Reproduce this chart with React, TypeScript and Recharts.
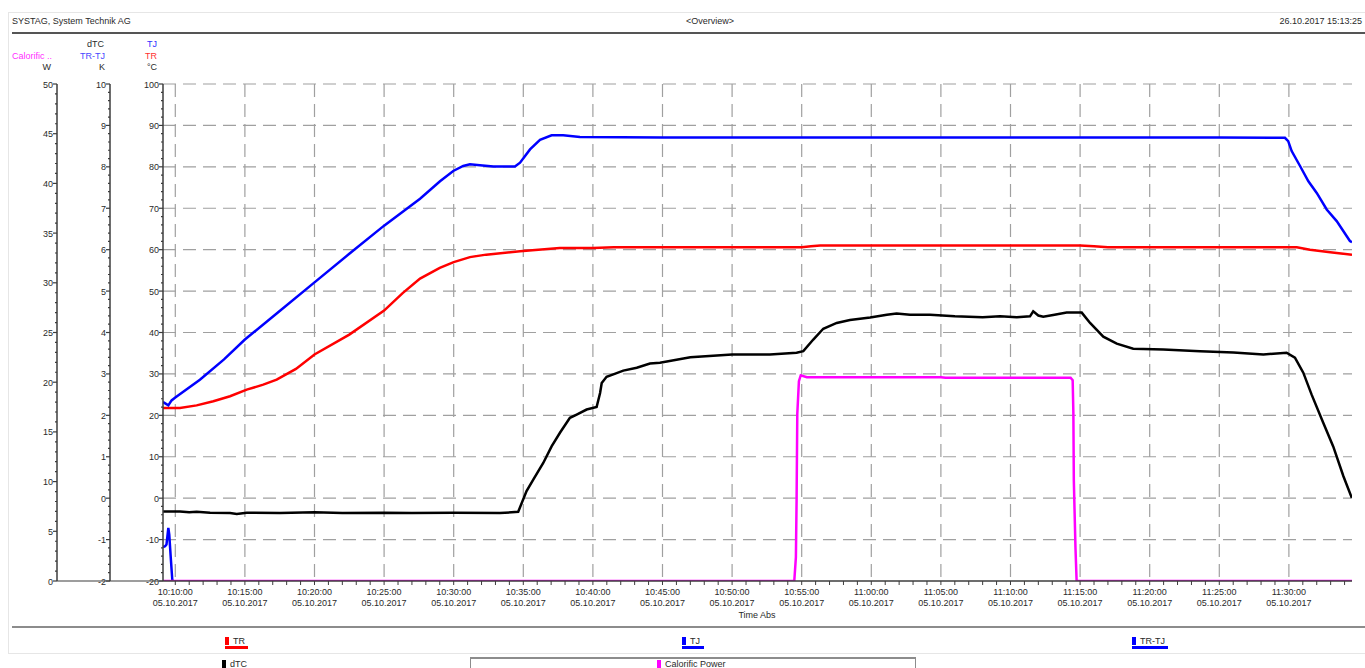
import { LineChart, Line, XAxis, YAxis, CartesianGrid } from 'recharts';

const toSec = (s: string) => {
  const [h, m, sec] = s.split(':').map(Number);
  return h * 3600 + m * 60 + sec;
};
const pad = (n: number) => String(n).padStart(2, '0');
const fmtTime = (t: number) =>
  `${pad(Math.floor(t / 3600))}:${pad(Math.floor((t % 3600) / 60))}:${pad(t % 60)}`;

const X_START = '10:09:07';
const X_END = '11:34:32';
const DATE_LABEL = '05.10.2017';

// TJ, °C
const TJ_TIMES = [
  '10:09:07', '10:09:13', '10:09:30', '10:09:44', '10:10:00',
  '10:11:46', '10:13:30', '10:15:00', '10:17:30', '10:20:00',
  '10:22:30', '10:25:00', '10:27:35', '10:29:01', '10:29:58',
  '10:30:41', '10:31:10', '10:31:53', '10:32:51', '10:34:24',
  '10:34:46', '10:35:29', '10:36:12', '10:37:02', '10:37:52',
  '10:39:04', '10:45:00', '10:55:00', '11:05:00', '11:15:00',
  '11:25:00', '11:29:43', '11:29:57', '11:30:12', '11:30:48',
  '11:31:24', '11:32:00', '11:32:43', '11:33:26', '11:34:23',
  '11:34:32',
];
const TJ_VALUES = [
  23.2, 23.0, 22.4, 23.6, 24.3,
  28.6, 33.5, 38.3, 45.2, 52.1,
  59.0, 65.8, 72.3, 76.5, 79.0,
  80.2, 80.6, 80.4, 80.1, 80.1,
  81.0, 84.2, 86.5, 87.6, 87.6,
  87.2, 87.1, 87.1, 87.1, 87.1,
  87.1, 87.0, 86.2, 83.8, 80.2,
  76.5, 73.7, 69.7, 66.9, 62.1,
  61.8,
];

// TR, °C
const TR_TIMES = [
  '10:09:07', '10:10:20', '10:11:32', '10:12:44', '10:13:56',
  '10:15:08', '10:16:19', '10:17:17', '10:18:40', '10:20:00',
  '10:22:30', '10:25:00', '10:26:20', '10:27:35', '10:29:00',
  '10:30:00', '10:31:10', '10:32:20', '10:34:46', '10:37:37',
  '10:40:00', '10:41:30', '10:55:00', '10:55:40', '10:56:20',
  '11:15:00', '11:16:00', '11:17:00', '11:30:34', '11:31:31',
  '11:32:58', '11:34:32',
];
const TR_VALUES = [
  21.8, 21.8, 22.4, 23.4, 24.6,
  26.2, 27.4, 28.6, 31.2, 34.7,
  39.5, 45.3, 49.5, 53.0, 55.6,
  57.0, 58.2, 58.8, 59.6, 60.4,
  60.4, 60.6, 60.6, 60.8, 61.0,
  61.0, 60.8, 60.6, 60.6, 60.0,
  59.4, 58.8,
];

// dTC, K
const DTC_TIMES = [
  '10:09:07', '10:10:20', '10:11:00', '10:11:32', '10:12:30',
  '10:13:56', '10:14:25', '10:15:08', '10:17:31', '10:20:00',
  '10:22:00', '10:25:00', '10:27:00', '10:30:00', '10:33:19',
  '10:34:38', '10:35:14', '10:35:43', '10:36:26', '10:37:02',
  '10:37:38', '10:38:21', '10:38:50', '10:39:33', '10:40:16',
  '10:40:31', '10:40:38', '10:40:59', '10:41:28', '10:42:11',
  '10:43:09', '10:44:06', '10:44:49', '10:47:00', '10:50:00',
  '10:52:43', '10:54:38', '10:55:07', '10:55:50', '10:56:33',
  '10:57:31', '10:58:28', '10:59:55', '11:01:07', '11:01:49',
  '11:02:47', '11:04:13', '11:06:00', '11:08:00', '11:09:15',
  '11:10:27', '11:11:24', '11:11:38', '11:12:00', '11:12:21',
  '11:13:04', '11:14:02', '11:15:07', '11:15:43', '11:16:40',
  '11:17:38', '11:18:49', '11:20:59', '11:23:37', '11:26:01',
  '11:28:10', '11:29:50', '11:30:26', '11:31:02', '11:31:38',
  '11:32:28', '11:33:11', '11:33:55', '11:34:31',
];
const DTC_VALUES = [
  -0.32, -0.32, -0.34, -0.33, -0.35,
  -0.36, -0.38, -0.35, -0.36, -0.34,
  -0.36, -0.35, -0.36, -0.35, -0.36,
  -0.33, 0.17, 0.45, 0.85, 1.25,
  1.58, 1.94, 2.02, 2.14, 2.2,
  2.54, 2.78, 2.93, 2.99, 3.08,
  3.15, 3.25, 3.27, 3.4, 3.47,
  3.47, 3.51, 3.55, 3.83, 4.09,
  4.23, 4.3, 4.36, 4.43, 4.46,
  4.43, 4.43, 4.39, 4.37, 4.39,
  4.37, 4.39, 4.51, 4.41, 4.38,
  4.42, 4.48, 4.48, 4.23, 3.9,
  3.73, 3.61, 3.59, 3.55, 3.52,
  3.47, 3.51, 3.39, 3.03, 2.5,
  1.82, 1.25, 0.53, 0.01,
];

// TR-TJ, K
const DIFF_TIMES = [
  '10:09:07', '10:09:16', '10:09:22', '10:09:30', '10:09:34',
  '10:09:40', '10:09:47', '10:10:00', '10:12:00', '10:15:00',
  '10:20:00', '10:25:00', '10:30:00', '10:34:30', '10:37:30',
  '11:30:00', '11:32:00', '11:34:30',
];
const DIFF_VALUES = [
  -1.18, -1.16, -1.12, -0.72, -0.88,
  -1.4, -1.97, -2.6, -6.5, -12.1,
  -17.4, -20.5, -22.0, -20.5, -27.2,
  -26.4, -13.9, -3.1,
];

// Calorific Power, W
const CAL_TIMES = [
  '10:09:07', '10:54:28', '10:54:35', '10:54:38', '10:54:41',
  '10:54:48', '10:54:56', '10:55:22', '11:05:00', '11:05:20',
  '11:14:19', '11:14:28', '11:14:31', '11:14:33', '11:14:40',
  '11:14:45', '11:34:32',
];
const CAL_VALUES = [
  0, 0, 2.4, 8.1, 16.8,
  20.1, 20.7, 20.5, 20.5, 20.45,
  20.45, 20.2, 16.9, 10.1, 3.4,
  0, 0,
];

const series = (times: string[], values: number[]) =>
  times.map((t, i) => ({ t: toSec(t), v: values[i] }));

const tjData = series(TJ_TIMES, TJ_VALUES);
const trData = series(TR_TIMES, TR_VALUES);
const dtcData = series(DTC_TIMES, DTC_VALUES);
const diffData = series(DIFF_TIMES, DIFF_VALUES);
const calData = series(CAL_TIMES, CAL_VALUES);

const minuteTicks: number[] = [];
for (let s = toSec('10:10:00'); s <= toSec(X_END); s += 60) minuteTicks.push(s);
const gridTimes = minuteTicks.filter((s) => s % 300 === 0);

const cTicks: number[] = [];
for (let v = -20; v <= 100; v += 2) cTicks.push(v);
const kTicks: number[] = [];
for (let i = -10; i <= 50; i++) kTicks.push(i / 5);
const wTicks: number[] = [];
for (let v = 0; v <= 50; v++) wTicks.push(v);
const cGrid = [-10, 0, 10, 20, 30, 40, 50, 60, 70, 80, 90, 100];

const FONT = "'Liberation Sans', Arial, sans-serif";
const AXIS = '#3c3c3c';
const TEXT = '#2a2a2a';
const AXIS_W = 53;

function makeYTick(major: number, bottom: number, connect: number) {
  return (props: any) => {
    const { x, y, payload } = props;
    const v = payload.value as number;
    const isMajor = Math.abs(v / major - Math.round(v / major)) < 1e-6;
    return (
      <g>
        <line x1={x - (isMajor ? 4 : 2)} x2={x} y1={y} y2={y} stroke={AXIS} strokeWidth={1.2} />
        {isMajor && (
          <text x={x - 4} y={y + 3.5} textAnchor="end" fontSize={9} fill={TEXT} fontFamily={FONT}>
            {Math.round(v)}
          </text>
        )}
        {connect > 0 && Math.abs(v - bottom) < 1e-6 && (
          <line x1={x} x2={x + connect} y1={y} y2={y} stroke={AXIS} strokeWidth={1.2} />
        )}
      </g>
    );
  };
}

const XTick = (props: any) => {
  const { x, y, payload } = props;
  const s = payload.value as number;
  const isMajor = s % 300 === 0;
  return (
    <g>
      <line x1={x} x2={x} y1={y} y2={y + 4} stroke={AXIS} strokeWidth={1} />
      {isMajor && (
        <text x={x} y={y + 13.5} textAnchor="middle" fontSize={9} fill={TEXT} fontFamily={FONT}>
          <tspan x={x}>{fmtTime(s)}</tspan>
          <tspan x={x} dy={11}>{DATE_LABEL}</tspan>
        </text>
      )}
    </g>
  );
};

const Txt = ({ x, y, children, color = TEXT, align = 'left' }: any) => (
  <div
    style={{
      position: 'absolute',
      left: x,
      top: y - 6,
      lineHeight: '12px',
      fontSize: 9,
      fontFamily: FONT,
      color,
      whiteSpace: 'nowrap',
      transform: align === 'right' ? 'translateX(-100%)' : align === 'center' ? 'translateX(-50%)' : undefined,
    }}
  >
    {children}
  </div>
);

const LegendItem = ({ x, y, color, label, underline }: any) => (
  <>
    <div style={{ position: 'absolute', left: x, top: y - 4, width: 4, height: 8, background: color }} />
    <Txt x={x + 8} y={y}>{label}</Txt>
    {underline && (
      <div style={{ position: 'absolute', left: x, top: y + 5, width: underline, height: 3, background: color }} />
    )}
  </>
);

export default function App() {
  return (
    <div
      style={{
        position: 'absolute',
        left: 0,
        top: 0,
        width: 1365,
        height: 668,
        overflow: 'hidden',
        background: '#fff',
        fontFamily: FONT,
      }}
    >
      <div style={{ position: 'absolute', left: 8, top: 12, width: 1360, height: 640, border: '1px solid #e6e6e6' }} />
      <Txt x={12} y={21}>SYSTAG, System Technik AG</Txt>
      <Txt x={710} y={21} align="center">&lt;Overview&gt;</Txt>
      <Txt x={1362} y={21} align="right">26.10.2017 15:13:25</Txt>
      <div style={{ position: 'absolute', left: 12, top: 32, width: 1353, height: 2, background: '#555' }} />

      <Txt x={104} y={44} align="right">dTC</Txt>
      <Txt x={157} y={44} align="right" color="#3030ff">TJ</Txt>
      <Txt x={12} y={56} color="#ff30ff">Calorific ..</Txt>
      <Txt x={105} y={56} align="right" color="#4848ff">TR-TJ</Txt>
      <Txt x={157} y={56} align="right" color="#ff3030">TR</Txt>
      <Txt x={51} y={67} align="right">W</Txt>
      <Txt x={105} y={67} align="right">K</Txt>
      <Txt x={157} y={67} align="right">°C</Txt>

      <div style={{ position: 'absolute', left: 0, top: 0 }}>
        <LineChart width={1365} height={668} margin={{ top: 84, right: 13, left: 4, bottom: 57 }}>
          <CartesianGrid
            horizontalValues={cGrid}
            verticalValues={gridTimes}
            stroke="#a0a0a0"
            strokeWidth={1.2}
            strokeDasharray="13 7"
          />
          <XAxis
            dataKey="t"
            type="number"
            domain={[toSec(X_START), toSec(X_END)]}
            allowDataOverflow
            ticks={minuteTicks}
            interval={0}
            tick={<XTick />}
            tickLine={false}
            tickSize={0}
            tickMargin={0}
            height={30}
            axisLine={{ stroke: AXIS, strokeWidth: 1.5 }}
          />
          <YAxis
            type="number"
            domain={[-20, 100]}
            allowDataOverflow
            ticks={cTicks}
            interval={0}
            tick={makeYTick(10, -20, 0)}
            tickLine={false}
            tickSize={0}
            tickMargin={0}
            width={AXIS_W}
            axisLine={{ stroke: AXIS, strokeWidth: 1.5 }}
          />
          <YAxis
            yAxisId="k"
            type="number"
            domain={[-2, 10]}
            allowDataOverflow
            ticks={kTicks}
            interval={0}
            tick={makeYTick(1, -2, AXIS_W)}
            tickLine={false}
            tickSize={0}
            tickMargin={0}
            width={AXIS_W}
            axisLine={{ stroke: AXIS, strokeWidth: 1.5 }}
          />
          <YAxis
            yAxisId="w"
            type="number"
            domain={[0, 50]}
            allowDataOverflow
            ticks={wTicks}
            interval={0}
            tick={makeYTick(5, 0, AXIS_W)}
            tickLine={false}
            tickSize={0}
            tickMargin={0}
            width={AXIS_W}
            axisLine={{ stroke: AXIS, strokeWidth: 1.5 }}
          />
          <Line yAxisId="k" data={diffData} dataKey="v" stroke="#0000ff" strokeWidth={2.5} dot={false} isAnimationActive={false} />
          <Line yAxisId="w" data={calData} dataKey="v" stroke="#ff00ff" strokeWidth={2.5} dot={false} isAnimationActive={false} />
          <Line yAxisId="k" data={dtcData} dataKey="v" stroke="#000000" strokeWidth={2.5} dot={false} isAnimationActive={false} />
          <Line data={trData} dataKey="v" stroke="#ff0000" strokeWidth={2.5} dot={false} isAnimationActive={false} />
          <Line data={tjData} dataKey="v" stroke="#0000ff" strokeWidth={2.5} dot={false} isAnimationActive={false} />
        </LineChart>
      </div>

      <Txt x={757} y={615} align="center">Time Abs</Txt>
      <div style={{ position: 'absolute', left: 12, top: 626, width: 1353, height: 2, background: '#8c8c8c' }} />
      <LegendItem x={225} y={641} color="#ff0000" label="TR" underline={23} />
      <LegendItem x={682} y={641} color="#0000ff" label="TJ" underline={22} />
      <LegendItem x={1132} y={641} color="#0000ff" label="TR-TJ" underline={36} />
      <LegendItem x={222} y={664} color="#000000" label="dTC" />
      <div style={{ position: 'absolute', left: 470, top: 657, width: 444, height: 20, borderTop: '2px solid #8c8c8c', borderLeft: '1px solid #8c8c8c', borderRight: '1px solid #8c8c8c' }} />
      <LegendItem x={657} y={664} color="#ff00ff" label="Calorific Power" />
    </div>
  );
}
